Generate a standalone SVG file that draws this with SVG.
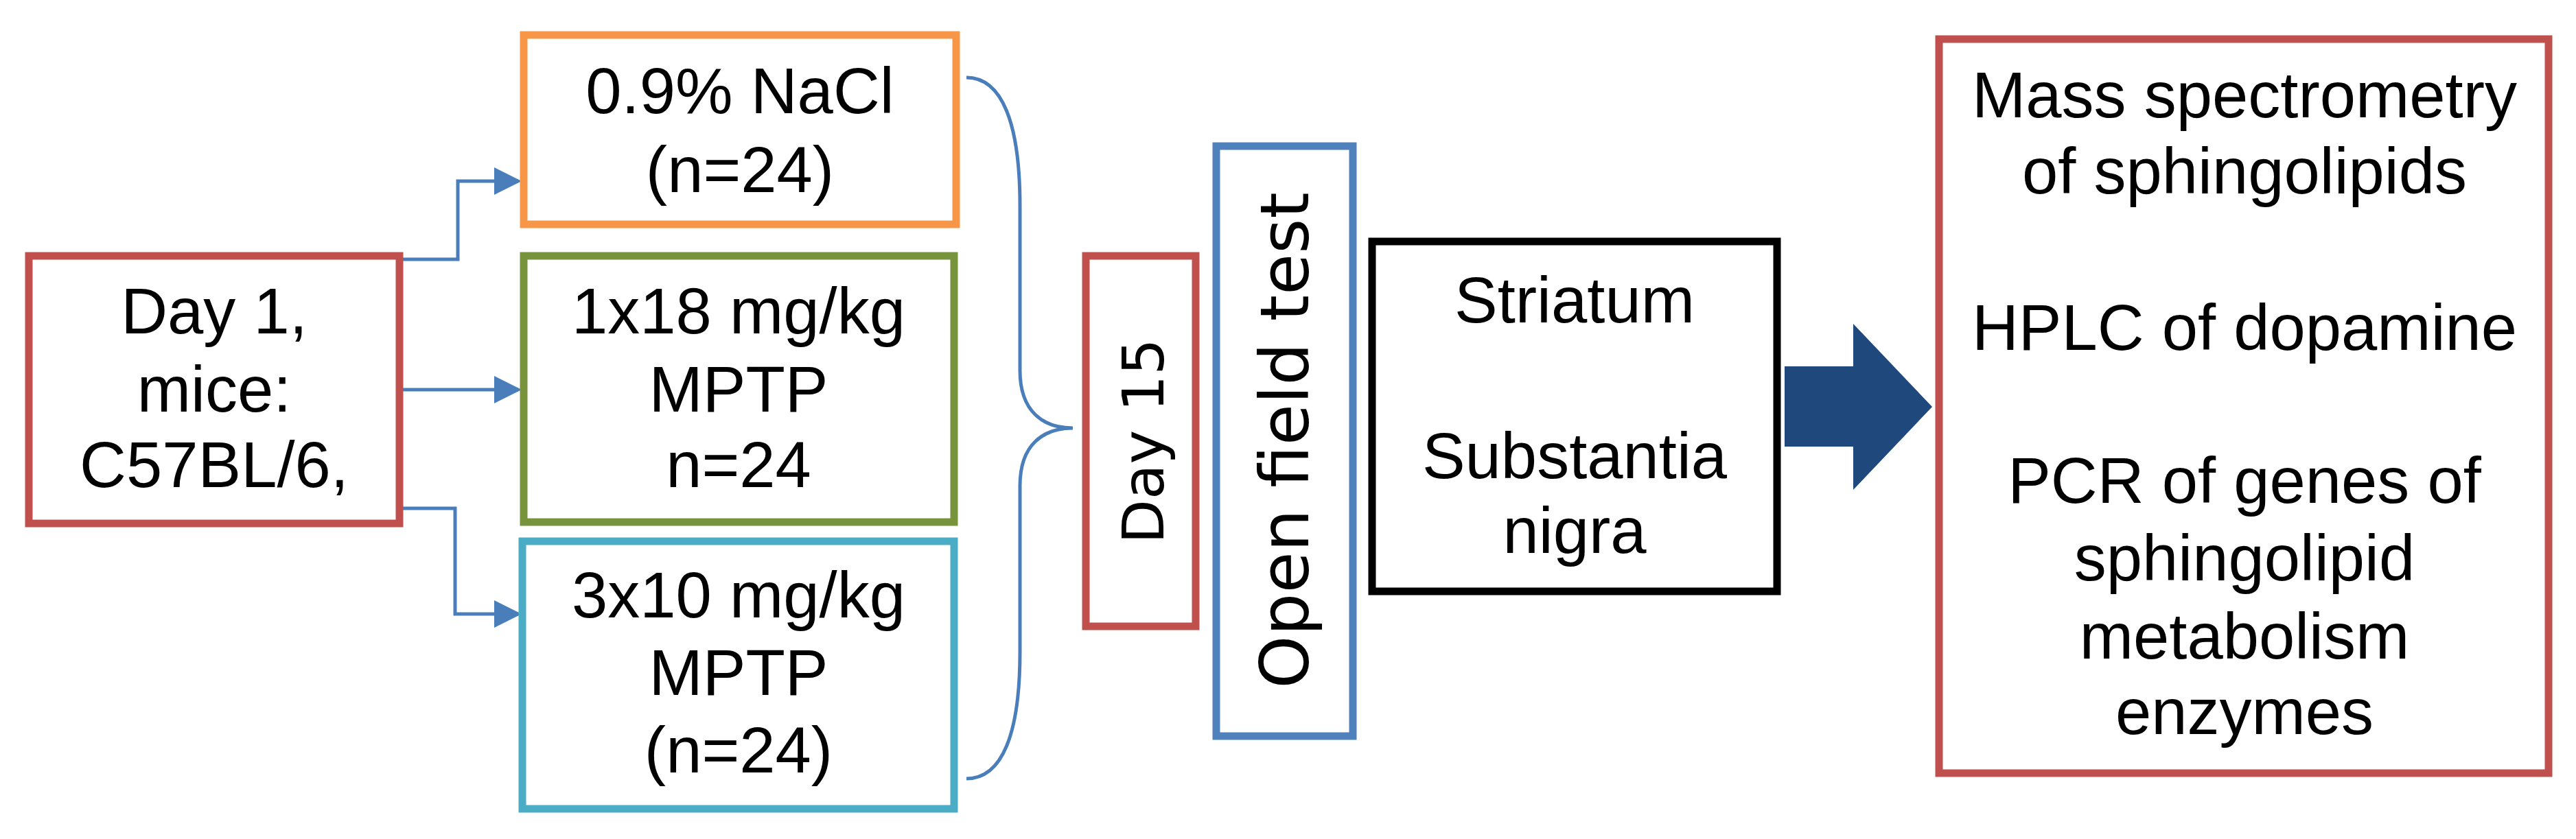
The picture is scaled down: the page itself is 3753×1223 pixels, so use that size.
<svg xmlns="http://www.w3.org/2000/svg" width="3753" height="1223" viewBox="0 0 3753 1223">
<style>
.t{font-family:"Liberation Sans",Arial,sans-serif;font-size:94px;fill:#000;text-anchor:middle}
.v{font-family:"DejaVu Sans",Verdana,sans-serif;fill:#000;text-anchor:middle}
.b{fill:#fff;stroke-width:11}
.c{fill:none;stroke:#4a7ebb;stroke-width:5}
</style>
<defs><marker id="a" markerWidth="8" markerHeight="8" refX="7" refY="4" orient="auto" markerUnits="strokeWidth"><path d="M0,0L8,4L0,8z" fill="#4a7ebb"/></marker></defs>
<rect width="3753" height="1223" fill="#fff"/>
<g id="connectors">
<path class="c" d="M582,378H667V264H755" marker-end="url(#a)"/>
<path class="c" d="M582,568H755" marker-end="url(#a)"/>
<path class="c" d="M582,741H663V895H755" marker-end="url(#a)"/>
<path class="c" d="M1408,113C1460,113 1486,180 1486,300V540C1486,600 1520,624 1563,624C1520,624 1486,648 1486,708V950C1486,1070 1460,1135 1408,1135"/>
<path d="M2600,534H2700V472L2815,593L2700,714V651H2600z" fill="#1f497d"/>
</g>
<g id="day1"><rect class="b" x="42" y="373" width="540" height="390" stroke="#c0504d"/>
<text class="t" x="312" y="486">Day 1,</text><text class="t" x="312" y="600">mice:</text><text class="t" x="312" y="710">C57BL/6,</text></g>
<g id="nacl"><rect class="b" x="763" y="51" width="630" height="276" stroke="#f79646"/>
<text class="t" x="1078" y="165">0.9% NaCl</text><text class="t" x="1078" y="280">(n=24)</text></g>
<g id="mptp1"><rect class="b" x="763" y="373" width="627" height="388" stroke="#77933c"/>
<text class="t" x="1076" y="486">1x18 mg/kg</text><text class="t" x="1076" y="600">MPTP</text><text class="t" x="1076" y="710">n=24</text></g>
<g id="mptp3"><rect class="b" x="761" y="789" width="629" height="390" stroke="#4bacc6"/>
<text class="t" x="1076" y="900">3x10 mg/kg</text><text class="t" x="1076" y="1013">MPTP</text><text class="t" x="1076" y="1126">(n=24)</text></g>
<g id="day15"><rect class="b" x="1582" y="373" width="160" height="540" stroke="#c0504d"/>
<text class="v" font-size="84" transform="translate(1695,643) rotate(-90)">Day 15</text></g>
<g id="openfield"><rect class="b" x="1772" y="213" width="199" height="860" stroke="#4f81bd"/>
<text class="v" font-size="98" transform="translate(1906,642) rotate(-90)">Open field test</text></g>
<g id="tissue"><rect class="b" x="1999" y="352" width="590" height="510" stroke="#000"/>
<text class="t" x="2294" y="470">Striatum</text><text class="t" x="2294" y="697">Substantia</text><text class="t" x="2294" y="806">nigra</text></g>
<g id="analysis"><rect class="b" x="2825" y="57" width="888" height="1070" stroke="#c0504d"/>
<text class="t" x="3270" y="171">Mass spectrometry</text><text class="t" x="3270" y="282">of sphingolipids</text>
<text class="t" x="3270" y="510">HPLC of dopamine</text>
<text class="t" x="3270" y="733">PCR of genes of</text><text class="t" x="3270" y="846">sphingolipid</text><text class="t" x="3270" y="960">metabolism</text><text class="t" x="3270" y="1070">enzymes</text></g>
</svg>
